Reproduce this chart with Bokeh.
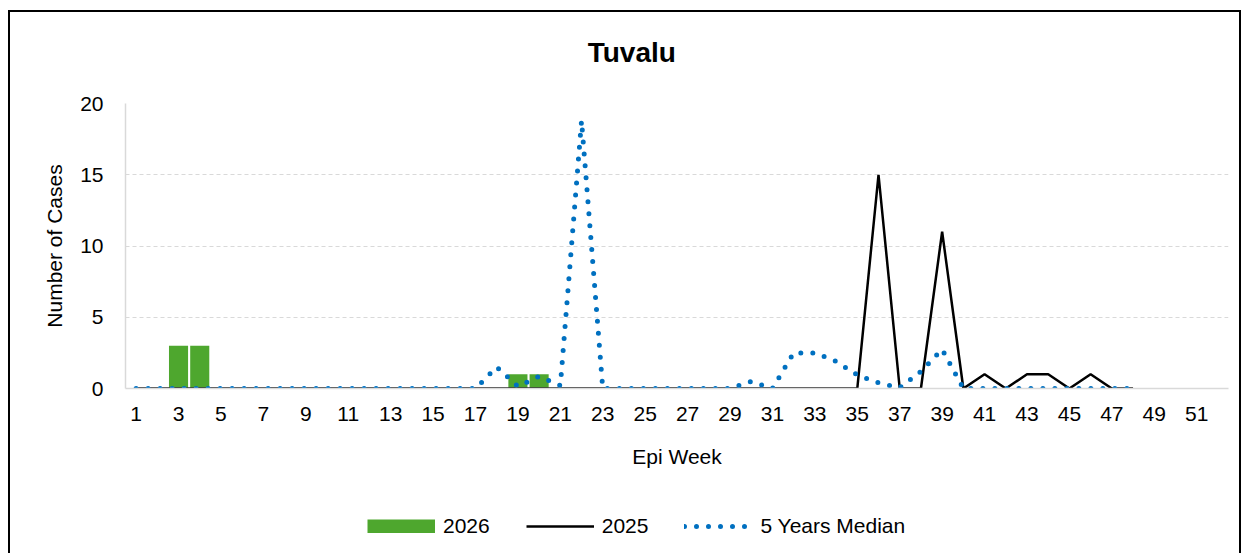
from bokeh.plotting import figure
from bokeh.models import Range1d, FixedTicker, Legend, LegendItem, Label
from bokeh.layouts import column
from bokeh.embed import file_html
from bokeh.resources import INLINE

# ---- data ----
bar_weeks = [3, 4, 19, 20]
cases_2026 = [3, 3, 1, 1]

weeks_2025 = list(range(1, 49))
cases_2025 = [0, 0, 0, 0, 0, 0, 0, 0, 0, 0,
              0, 0, 0, 0, 0, 0, 0, 0, 0, 0,
              0, 0, 0, 0, 0, 0, 0, 0, 0, 0,
              0, 0, 0, 0, 0, 15, 0, 0, 11, 0,
              1, 0, 1, 1, 0, 1, 0, 0]

weeks_median = list(range(1, 49))
median_5y = [0, 0, 0, 0, 0, 0, 0, 0, 0, 0,
             0, 0, 0, 0, 0, 0, 0, 1.5, 0.15, 0.85,
             0.2, 18.8, 0, 0, 0, 0, 0, 0, 0, 0.5,
             0, 2.5, 2.5, 1.9, 0.95, 0.4, 0.05, 1.2, 2.75, 0,
             0, 0, 0, 0, 0, 0, 0, 0]

title_text = "Tuvalu"
series_names = ["2026", "2025", "5 Years Median"]
x_ticks = list(range(1, 52, 2))
y_ticks = [0, 5, 10, 15, 20]

FONT = "Liberation Sans"
GREEN = "#4EA72E"
BLUE = "#0070C0"
GRAY = "#d9d9d9"

line25_style = dict(line_color="black", line_width=2.5)
med_style = dict(line_color=BLUE, line_width=5, line_dash="0 12", line_cap="round")


def strip(height):
    f = figure(width=1229, height=height, output_backend="svg", toolbar_location=None,
               x_axis_location=None, y_axis_location=None,
               x_range=Range1d(0.5, 52.5), y_range=Range1d(0, height),
               min_border_left=115, min_border_right=11,
               min_border_top=0, min_border_bottom=0)
    f.outline_line_color = None
    f.xgrid.grid_line_color = None
    f.ygrid.grid_line_color = None
    f.border_fill_color = "white"
    return f


# ---- title strip ----
tf = strip(70)
tf.add_layout(Label(x=24.37, y=30, text=title_text, text_align="center",
                    text_baseline="middle", text_font=FONT, text_font_size="28px",
                    text_font_style="bold", text_color="black"))

# ---- main chart ----
p = figure(width=1229, height=410, output_backend="svg", toolbar_location=None,
           x_range=Range1d(0.5, 52.5), y_range=Range1d(0, 20),
           min_border_left=115, min_border_right=11, min_border_top=21,
           min_border_bottom=104)
p.outline_line_color = None
p.background_fill_color = "white"
p.border_fill_color = "white"

p.vbar(x=bar_weeks, top=cases_2026, bottom=0, width=0.9,
       fill_color=GREEN, line_color=None)
p.line(weeks_2025, cases_2025, **line25_style)
p.line(weeks_median, median_5y, **med_style)

p.xaxis.ticker = FixedTicker(ticks=x_ticks)
p.yaxis.ticker = FixedTicker(ticks=y_ticks)
for ax in (p.xaxis, p.yaxis):
    ax.major_tick_line_color = None
    ax.minor_tick_line_color = None
    ax.axis_line_color = GRAY
    ax.axis_line_width = 1.5
    ax.major_label_text_font = FONT
    ax.major_label_text_font_size = "21px"
    ax.major_label_text_color = "black"
    ax.axis_label_text_font = FONT
    ax.axis_label_text_font_size = "21px"
    ax.axis_label_text_font_style = "normal"
    ax.axis_label_text_color = "black"

p.xaxis.axis_label = "Epi Week"
p.yaxis.axis_label = "Number of Cases"
p.xaxis.major_label_standoff = 12
p.xaxis.axis_label_standoff = 21
p.yaxis.major_label_standoff = 16
p.yaxis.axis_label_standoff = 11

p.xgrid.grid_line_color = None
p.ygrid.grid_line_color = GRAY
p.ygrid.grid_line_dash = "4 3"
p.ygrid.grid_line_width = 1

# ---- legend strip (proxy renderers lie outside its visible ranges) ----
lf = strip(61)
lf.x_range = Range1d(100, 101)
lf.y_range = Range1d(100, 161)
lb = lf.line(bar_weeks, cases_2026, line_color=GREEN, line_width=14, line_cap="butt")
ll = lf.line(weeks_2025, cases_2025, **line25_style)
lm = lf.line(weeks_median, median_5y, **med_style)

legend = Legend(items=[LegendItem(label=series_names[0], renderers=[lb]),
                       LegendItem(label=series_names[1], renderers=[ll]),
                       LegendItem(label=series_names[2], renderers=[lm])],
                orientation="horizontal", location=(242, 15),
                glyph_width=68, glyph_height=14, label_standoff=8, spacing=36,
                padding=0, margin=0, border_line_color=None,
                background_fill_alpha=0, label_text_font=FONT,
                label_text_font_size="21px", label_text_color="black")
lf.add_layout(legend)

layout = column(tf, p, lf, spacing=0)
layout.styles = {"border-left": "2px solid black", "border-top": "2px solid black",
                 "border-right": "2px solid black", "margin-top": "10px",
                 "margin-left": "8px"}

open("out.html", "w").write(file_html(layout, INLINE))
